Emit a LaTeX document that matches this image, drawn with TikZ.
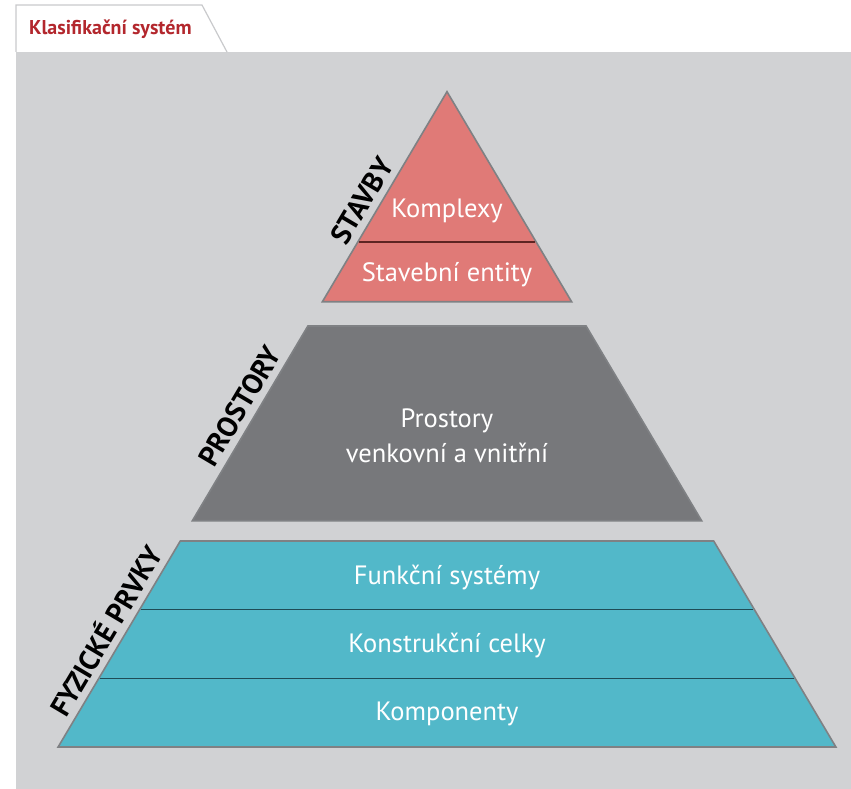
\documentclass[tikz,border=0pt]{standalone}
\usepackage{fontspec}
\setmainfont{PT Sans}
\definecolor{bggray}{HTML}{D1D2D4}
\definecolor{tabline}{HTML}{C9CACC}
\definecolor{titlered}{HTML}{B3272D}
\definecolor{stavbyred}{HTML}{E07A77}
\definecolor{stavbyline}{HTML}{5E2422}
\definecolor{prostorgray}{HTML}{77787B}
\definecolor{prvkyteal}{HTML}{52B8C9}
\definecolor{prvkyline}{HTML}{1F4C56}
\definecolor{edgegray}{HTML}{7F8184}
\begin{document}
\begin{tikzpicture}[x=1pt,y=-1pt,
    layer/.style={draw=edgegray,line width=1.6pt},
    divider/.style={line width=1.4pt},
    lbl/.style={text=white,anchor=base,inner sep=0pt,font=\fontsize{26.5}{30}\selectfont},
    side/.style={anchor=base,inner sep=0pt,rotate=59.3,font=\fontsize{28.5}{32}\selectfont\bfseries}]
  \useasboundingbox (0,0) rectangle (851,789);
  \fill[bggray] (16,52) rectangle (851,789);
  \draw[tabline,line width=1.2pt,fill=white] (16,52) -- (16,5) -- (202,5) -- (227,52);
  \node[anchor=base west,inner sep=0pt,text=titlered,font=\fontsize{20}{24}\selectfont\bfseries] (title) at (29,35) {Klasifikační systém};

  % stavby
  \draw[layer,fill=stavbyred] (447,91.7) -- (571.6,301.7) -- (322.4,301.7) -- cycle;
  \draw[divider,stavbyline] (358.8,242) -- (535.2,242);
  \node[lbl] (komplexy) at (447,217.3) {Komplexy};
  \node[lbl] (entity) at (447,281.7) {Stavební entity};
  \node[side] (stavby) at (370.5,206) {STAVBY};

  % prostory
  \draw[layer,fill=prostorgray] (307.9,326) -- (586.1,326) -- (701.6,520.7) -- (192.4,520.7) -- cycle;
  \node[lbl] (prostory) at (447,427.3) {Prostory};
  \node[lbl] (vnitrni) at (447,462.7) {venkovní a vnitřní};
  \node[side] (prostoryside) at (248.5,411) {PROSTORY};

  % fyzicke prvky
  \draw[layer,fill=prvkyteal] (180.3,541) -- (713.7,541) -- (835.9,747) -- (58.1,747) -- cycle;
  \draw[divider,prvkyline] (140.6,609.7) -- (753.4,609.7);
  \draw[divider,prvkyline] (99.9,678.3) -- (794.1,678.3);
  \node[lbl] (funkcni) at (447,584) {Funkční systémy};
  \node[lbl] (celky) at (447,652.7) {Konstrukční celky};
  \node[lbl] (komponenty) at (447,720) {Komponenty};
  \node[side] (prvky) at (115,636.5) {FYZICKÉ PRVKY};
\end{tikzpicture}
\end{document}
